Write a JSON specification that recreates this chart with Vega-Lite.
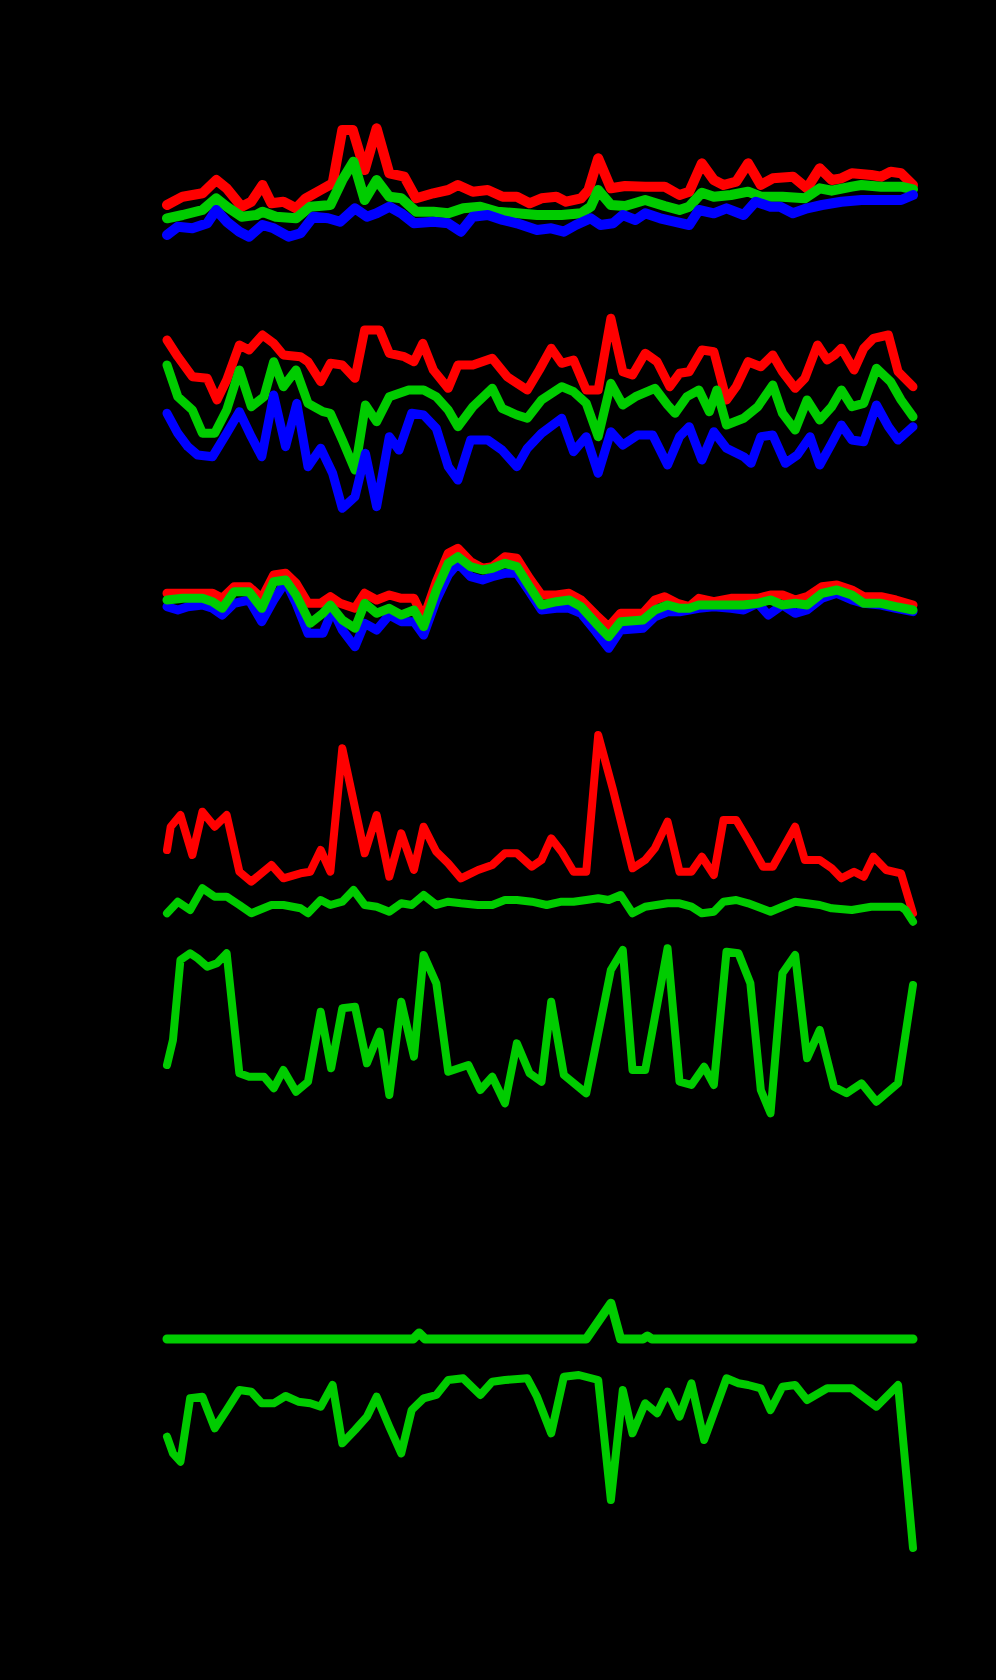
{
"$schema": "https://vega.github.io/schema/vega-lite/v6.json",
"background": "#000000",
"padding": {"left": 162, "right": 78, "top": 0, "bottom": 0},
"spacing": 0,
"config": {"view": {"stroke": null}, "line": {"strokeCap": "round", "strokeJoin": "round"}},
"datasets": {
"p1r": [{"x":0,"y":45},{"x":2.1,"y":53.3},{"x":4.75,"y":56.7},{"x":6.6,"y":70},{"x":8,"y":61.7},{"x":10,"y":43.3},{"x":11.3,"y":48.3},{"x":12.8,"y":65},{"x":14,"y":46.7},{"x":15.6,"y":48.3},{"x":17.3,"y":41.7},{"x":18.6,"y":51.7},{"x":20.6,"y":60},{"x":22.2,"y":66.7},{"x":23.5,"y":120},{"x":24.9,"y":120},{"x":26.5,"y":80},{"x":28.1,"y":121.7},{"x":29.8,"y":76.7},{"x":31.8,"y":73.3},{"x":33.4,"y":51.7},{"x":35.7,"y":56.7},{"x":37.7,"y":60},{"x":39,"y":65},{"x":41,"y":58.3},{"x":43,"y":60},{"x":45,"y":53.3},{"x":46.9,"y":53.3},{"x":48.6,"y":46.7},{"x":50.2,"y":51.7},{"x":52.2,"y":53.3},{"x":53.5,"y":48.3},{"x":55.5,"y":51.7},{"x":56.5,"y":60},{"x":57.8,"y":91.7},{"x":59.5,"y":61.7},{"x":61.4,"y":64},{"x":64.1,"y":63.3},{"x":66.7,"y":63.3},{"x":68.7,"y":55},{"x":70,"y":58.3},{"x":71.7,"y":86.7},{"x":73.3,"y":70},{"x":74.6,"y":65},{"x":76.3,"y":68.3},{"x":77.9,"y":86.7},{"x":79.6,"y":65},{"x":81.2,"y":71.7},{"x":83.9,"y":73.3},{"x":85.8,"y":61.7},{"x":87.5,"y":81.7},{"x":89.1,"y":70},{"x":90.4,"y":71.7},{"x":91.8,"y":76.7},{"x":94.4,"y":75},{"x":95.7,"y":73.3},{"x":97,"y":78.3},{"x":98.4,"y":76.7},{"x":100,"y":65}],
"p1g": [{"x":0,"y":31.7},{"x":2.1,"y":35},{"x":4.75,"y":40},{"x":6.6,"y":51.7},{"x":8,"y":43.3},{"x":10,"y":33.3},{"x":12,"y":35},{"x":12.8,"y":38.3},{"x":14.6,"y":33.3},{"x":17.3,"y":31.7},{"x":19.2,"y":43.3},{"x":21.9,"y":45},{"x":23.5,"y":70},{"x":25,"y":88.3},{"x":26.5,"y":50},{"x":28.1,"y":70},{"x":29.8,"y":53.3},{"x":31.4,"y":51.7},{"x":33.4,"y":38.3},{"x":35.7,"y":38.3},{"x":37.7,"y":36.7},{"x":39.7,"y":41.7},{"x":42,"y":43.3},{"x":44.3,"y":38.3},{"x":46.9,"y":36.7},{"x":49.6,"y":35},{"x":52.9,"y":35},{"x":55.5,"y":36.7},{"x":56.8,"y":43.3},{"x":57.8,"y":60},{"x":59.5,"y":45},{"x":61.4,"y":44},{"x":64.1,"y":50},{"x":66.7,"y":44},{"x":68.7,"y":40},{"x":70,"y":43.3},{"x":71.7,"y":57.3},{"x":73.3,"y":53.3},{"x":75.6,"y":55},{"x":77.9,"y":58.3},{"x":79.6,"y":53.3},{"x":82.5,"y":53.3},{"x":85.5,"y":51.7},{"x":87.5,"y":61.7},{"x":89.1,"y":59.3},{"x":91.8,"y":63.3},{"x":93.1,"y":65},{"x":95.7,"y":63.3},{"x":98.4,"y":63.3},{"x":100,"y":60.7}],
"p1b": [{"x":0,"y":15},{"x":1.45,"y":23.3},{"x":3.4,"y":21.7},{"x":5.4,"y":26.7},{"x":6.6,"y":40},{"x":8,"y":28.3},{"x":9.7,"y":18.3},{"x":11,"y":13.3},{"x":12.8,"y":25},{"x":14.3,"y":21.7},{"x":16.3,"y":13.3},{"x":17.9,"y":16.7},{"x":19.6,"y":33.3},{"x":21.6,"y":31.7},{"x":23.2,"y":28.3},{"x":25.2,"y":41.7},{"x":26.8,"y":33.3},{"x":28.1,"y":36.7},{"x":29.8,"y":43.3},{"x":31.4,"y":36.7},{"x":33.1,"y":26.7},{"x":35.7,"y":28.3},{"x":37.7,"y":26.7},{"x":39.4,"y":18.3},{"x":41,"y":33.3},{"x":43,"y":35},{"x":45,"y":30},{"x":46.9,"y":26.7},{"x":49.6,"y":20},{"x":51.5,"y":21.7},{"x":53.2,"y":18.3},{"x":54.8,"y":25},{"x":56.8,"y":31.7},{"x":58.1,"y":25},{"x":59.8,"y":26.7},{"x":61.1,"y":35},{"x":62.8,"y":30},{"x":64.1,"y":36.7},{"x":66.1,"y":31.7},{"x":68,"y":28.3},{"x":70,"y":25},{"x":71.3,"y":40},{"x":73.3,"y":36.7},{"x":75,"y":41.7},{"x":77.3,"y":35},{"x":78.9,"y":48.3},{"x":80.9,"y":43.3},{"x":82.2,"y":43.3},{"x":83.9,"y":36.7},{"x":85.8,"y":41.7},{"x":87.8,"y":45},{"x":90.4,"y":48.3},{"x":93.1,"y":50},{"x":95.7,"y":50},{"x":98.4,"y":50},{"x":100,"y":55}],
"p2r": [{"x":0,"y":110},{"x":1.45,"y":93.3},{"x":3.4,"y":73.3},{"x":5.4,"y":71.7},{"x":6.7,"y":50},{"x":8,"y":70},{"x":9.7,"y":105},{"x":11,"y":100},{"x":12.8,"y":115},{"x":14.3,"y":106.7},{"x":15.6,"y":95},{"x":17.9,"y":93.3},{"x":18.9,"y":88.3},{"x":20.6,"y":68.3},{"x":21.9,"y":86.7},{"x":23.5,"y":85},{"x":25.2,"y":71.7},{"x":26.5,"y":120},{"x":28.5,"y":120},{"x":29.8,"y":96.7},{"x":31.8,"y":93.3},{"x":33.1,"y":88.3},{"x":34.3,"y":106.7},{"x":35.7,"y":80},{"x":37.7,"y":61.7},{"x":39,"y":85},{"x":41,"y":85},{"x":43.6,"y":91.7},{"x":45.6,"y":73.3},{"x":48.3,"y":60},{"x":49.9,"y":80},{"x":51.5,"y":101.7},{"x":52.9,"y":86.7},{"x":54.5,"y":90},{"x":56.2,"y":60},{"x":57.8,"y":60},{"x":59.5,"y":131.7},{"x":61.1,"y":78.3},{"x":62.4,"y":75},{"x":64.1,"y":96.7},{"x":65.7,"y":88.3},{"x":67.4,"y":63.3},{"x":68.7,"y":76.7},{"x":70,"y":78.3},{"x":71.7,"y":100},{"x":73.3,"y":98.3},{"x":75,"y":50},{"x":76.3,"y":63.3},{"x":77.9,"y":88.3},{"x":79.6,"y":83.3},{"x":81.2,"y":95},{"x":82.5,"y":78.3},{"x":84.2,"y":61.7},{"x":85.5,"y":71.7},{"x":87.2,"y":105},{"x":88.5,"y":90},{"x":89.5,"y":95},{"x":90.4,"y":101.7},{"x":92.1,"y":80},{"x":93.4,"y":101.7},{"x":94.7,"y":111.7},{"x":96.7,"y":115},{"x":98,"y":78.3},{"x":100,"y":63.3}],
"p2g": [{"x":0,"y":85},{"x":1.45,"y":53.3},{"x":3.4,"y":40},{"x":4.75,"y":16.7},{"x":6.4,"y":16.7},{"x":8,"y":40},{"x":9.7,"y":80},{"x":11.3,"y":43.3},{"x":13,"y":53.3},{"x":14.3,"y":88.3},{"x":15.6,"y":63.3},{"x":17.3,"y":80},{"x":18.9,"y":46.7},{"x":20.9,"y":38.3},{"x":21.9,"y":36.7},{"x":23.5,"y":10},{"x":25.2,"y":-20},{"x":26.6,"y":45},{"x":28.1,"y":28.3},{"x":29.8,"y":53.3},{"x":32.4,"y":60},{"x":34.4,"y":60},{"x":36.1,"y":53.3},{"x":37.7,"y":40},{"x":39,"y":23.3},{"x":41,"y":43.3},{"x":43.6,"y":61.7},{"x":44.9,"y":41.7},{"x":46.9,"y":35},{"x":48.3,"y":31.7},{"x":50.2,"y":50},{"x":52.9,"y":63.3},{"x":54.5,"y":58.3},{"x":56.2,"y":46.7},{"x":57.8,"y":13.3},{"x":59.5,"y":66.7},{"x":61.1,"y":45},{"x":62.8,"y":53.3},{"x":65.4,"y":61.7},{"x":67.1,"y":45},{"x":68.1,"y":36.7},{"x":69.7,"y":53.3},{"x":71.3,"y":60},{"x":72.7,"y":38.3},{"x":73.7,"y":60},{"x":75,"y":25},{"x":77.3,"y":31.7},{"x":79.2,"y":43.3},{"x":81.2,"y":65},{"x":82.5,"y":36.7},{"x":84.2,"y":20},{"x":85.8,"y":50},{"x":87.5,"y":30},{"x":89.1,"y":43.3},{"x":90.4,"y":60},{"x":91.8,"y":43.3},{"x":93.4,"y":46.7},{"x":95.1,"y":81.7},{"x":97,"y":68.3},{"x":98.4,"y":50},{"x":100,"y":33.3}],
"p2b": [{"x":0,"y":36.7},{"x":1.45,"y":16.7},{"x":2.8,"y":3.3},{"x":4.1,"y":-5},{"x":6.1,"y":-6.7},{"x":8,"y":16.7},{"x":9.7,"y":38.3},{"x":11.3,"y":13.3},{"x":12.7,"y":-6.7},{"x":14.3,"y":55},{"x":15.9,"y":3.3},{"x":17.4,"y":46.7},{"x":18.9,"y":-16.7},{"x":20.6,"y":1.7},{"x":22.2,"y":-23.3},{"x":23.5,"y":-58.3},{"x":25.2,"y":-46.7},{"x":26.6,"y":-3.3},{"x":28.1,"y":-56.7},{"x":29.8,"y":13.3},{"x":31.1,"y":0},{"x":32.8,"y":36.7},{"x":34.4,"y":35},{"x":36.1,"y":21.7},{"x":37.7,"y":-16.7},{"x":39,"y":-30},{"x":40.7,"y":10},{"x":43,"y":10},{"x":44.9,"y":0},{"x":46.9,"y":-16.7},{"x":48.3,"y":1.7},{"x":50.2,"y":16.7},{"x":52.9,"y":31.7},{"x":54.5,"y":-1.7},{"x":56.2,"y":13.3},{"x":57.8,"y":-23.3},{"x":59.5,"y":18.3},{"x":61.1,"y":5},{"x":63.1,"y":15},{"x":65.1,"y":15},{"x":67.1,"y":-15},{"x":68.7,"y":13.3},{"x":70,"y":23.3},{"x":71.7,"y":-10},{"x":73.3,"y":18.3},{"x":75,"y":1.7},{"x":77.3,"y":-6.7},{"x":78.3,"y":-13.3},{"x":79.6,"y":13.3},{"x":81.2,"y":15},{"x":82.9,"y":-13.3},{"x":84.5,"y":-5},{"x":86.2,"y":13.3},{"x":87.5,"y":-15},{"x":89.1,"y":6.7},{"x":90.4,"y":25},{"x":91.8,"y":10},{"x":93.4,"y":8.3},{"x":95.1,"y":45},{"x":96.7,"y":23.3},{"x":98,"y":10},{"x":100,"y":23.3}],
"p3r": [{"x":0,"y":76.7},{"x":2.1,"y":76.7},{"x":4.75,"y":76.7},{"x":6.1,"y":76.7},{"x":7.4,"y":71.7},{"x":9,"y":83.3},{"x":11,"y":83.3},{"x":12.7,"y":71.7},{"x":14.3,"y":95},{"x":15.9,"y":96.7},{"x":17.3,"y":86.7},{"x":18.9,"y":66.7},{"x":20.6,"y":66.7},{"x":21.9,"y":73.3},{"x":23.2,"y":66.7},{"x":25.2,"y":61.7},{"x":26.5,"y":76.7},{"x":28.1,"y":70},{"x":29.8,"y":75},{"x":31.4,"y":71.7},{"x":33.1,"y":71.7},{"x":34.4,"y":51.7},{"x":36.1,"y":88.3},{"x":37.7,"y":116.7},{"x":39,"y":121.7},{"x":40.7,"y":108.3},{"x":42.3,"y":101.7},{"x":43.6,"y":103.3},{"x":45.3,"y":113.3},{"x":46.9,"y":111.7},{"x":48.6,"y":91.7},{"x":50.2,"y":75},{"x":52.2,"y":75},{"x":53.9,"y":76.7},{"x":55.5,"y":70},{"x":57.5,"y":55},{"x":59.2,"y":43.3},{"x":60.8,"y":56.7},{"x":63.8,"y":56.7},{"x":65.4,"y":70},{"x":66.7,"y":73.3},{"x":68.4,"y":66.7},{"x":70,"y":63.3},{"x":71.3,"y":71.7},{"x":73.3,"y":68.3},{"x":75.6,"y":71.7},{"x":77.3,"y":71.7},{"x":79.2,"y":71.7},{"x":80.9,"y":75},{"x":82.5,"y":75},{"x":84.2,"y":70},{"x":85.8,"y":73.3},{"x":87.8,"y":83.3},{"x":89.8,"y":85},{"x":91.8,"y":80},{"x":93.4,"y":73.3},{"x":95.7,"y":73.3},{"x":97.7,"y":70},{"x":100,"y":65}],
"p3g": [{"x":0,"y":70},{"x":2.1,"y":71.7},{"x":4.75,"y":71.7},{"x":6.1,"y":68.3},{"x":7.4,"y":61.7},{"x":9,"y":78.3},{"x":11,"y":78.3},{"x":12.7,"y":61.7},{"x":14.3,"y":88.3},{"x":15.9,"y":90},{"x":17.3,"y":75},{"x":19.2,"y":46.7},{"x":20.9,"y":56.7},{"x":21.9,"y":65},{"x":23.5,"y":50},{"x":25.2,"y":41.7},{"x":26.5,"y":66.7},{"x":28.1,"y":56.7},{"x":29.8,"y":61.7},{"x":31.4,"y":55},{"x":33.1,"y":60},{"x":34.4,"y":43.3},{"x":36.1,"y":80},{"x":37.7,"y":106.7},{"x":39,"y":113.3},{"x":40.7,"y":103.3},{"x":42.3,"y":100},{"x":43.6,"y":101.7},{"x":45.3,"y":106.7},{"x":46.9,"y":103.3},{"x":48.6,"y":83.3},{"x":50.2,"y":65},{"x":52.2,"y":68.3},{"x":53.9,"y":70},{"x":55.5,"y":63.3},{"x":57.5,"y":46.7},{"x":59.2,"y":33.3},{"x":60.8,"y":48.3},{"x":63.8,"y":50},{"x":65.4,"y":60},{"x":67.1,"y":65},{"x":68.7,"y":61.7},{"x":70,"y":61.7},{"x":71.3,"y":65},{"x":73.3,"y":65},{"x":75.6,"y":65},{"x":77.3,"y":65},{"x":79.2,"y":66.7},{"x":80.9,"y":70},{"x":82.5,"y":65},{"x":84.2,"y":66.7},{"x":85.8,"y":65},{"x":87.8,"y":76.7},{"x":89.8,"y":80},{"x":91.8,"y":75},{"x":93.4,"y":66.7},{"x":95.7,"y":66.7},{"x":97.7,"y":63.3},{"x":100,"y":60}],
"p3b": [{"x":0,"y":63.3},{"x":1.45,"y":60},{"x":2.8,"y":63.3},{"x":4.75,"y":65},{"x":6.1,"y":61.7},{"x":7.4,"y":55},{"x":9,"y":66.7},{"x":11,"y":70},{"x":12.7,"y":48.3},{"x":14.3,"y":70},{"x":15.9,"y":88.3},{"x":17.3,"y":66.7},{"x":18.9,"y":36.7},{"x":20.9,"y":36.7},{"x":22.2,"y":60},{"x":23.5,"y":40},{"x":25.2,"y":23.3},{"x":26.5,"y":46.7},{"x":28.1,"y":40},{"x":29.8,"y":55},{"x":31.4,"y":48.3},{"x":33.1,"y":48.3},{"x":34.4,"y":35},{"x":36.1,"y":70},{"x":37.7,"y":95},{"x":39,"y":106.7},{"x":40.7,"y":93.3},{"x":42.3,"y":90},{"x":43.6,"y":93.3},{"x":45.3,"y":96.7},{"x":46.9,"y":96.7},{"x":48.6,"y":78.3},{"x":50.2,"y":60},{"x":52.2,"y":61.7},{"x":53.9,"y":61.7},{"x":55.5,"y":56.7},{"x":57.5,"y":38.3},{"x":59.2,"y":21.7},{"x":60.8,"y":40},{"x":63.8,"y":41.7},{"x":65.4,"y":53.3},{"x":67.1,"y":58.3},{"x":68.7,"y":58.3},{"x":70,"y":60},{"x":71.3,"y":61.7},{"x":73.3,"y":63.3},{"x":75.6,"y":61.7},{"x":77.3,"y":60},{"x":79.2,"y":66.7},{"x":80.6,"y":55},{"x":82.5,"y":65},{"x":84.2,"y":56.7},{"x":85.8,"y":60},{"x":87.8,"y":71.7},{"x":89.8,"y":76.7},{"x":91.8,"y":70},{"x":93.4,"y":66.7},{"x":95.7,"y":65},{"x":97.7,"y":61.7},{"x":100,"y":58.3}],
"p4r": [{"x":0,"y":20},{"x":0.5,"y":43.3},{"x":1.8,"y":55},{"x":3.4,"y":15},{"x":4.75,"y":58.3},{"x":6.4,"y":43.3},{"x":8,"y":55},{"x":9.7,"y":-1.7},{"x":11.3,"y":-11.7},{"x":14,"y":5},{"x":15.6,"y":-8.3},{"x":17.9,"y":-3.3},{"x":19.2,"y":-1.7},{"x":20.6,"y":20},{"x":21.9,"y":-1.7},{"x":23.5,"y":121.7},{"x":26.5,"y":16.7},{"x":28.1,"y":55},{"x":29.8,"y":-6.7},{"x":31.4,"y":36.7},{"x":33.1,"y":0},{"x":34.4,"y":43.3},{"x":36.1,"y":18.3},{"x":37.7,"y":6.7},{"x":39.4,"y":-8.3},{"x":41.7,"y":0},{"x":43.6,"y":5},{"x":45.3,"y":16.7},{"x":46.9,"y":16.7},{"x":48.9,"y":3.3},{"x":50.2,"y":10},{"x":51.5,"y":31.7},{"x":52.9,"y":18.3},{"x":54.5,"y":-1.7},{"x":56.2,"y":-1.7},{"x":57.8,"y":135},{"x":59.8,"y":80},{"x":62.4,"y":1.7},{"x":64.1,"y":10},{"x":65.4,"y":21.7},{"x":67.1,"y":48.3},{"x":68.7,"y":-1.7},{"x":70.3,"y":-1.7},{"x":71.7,"y":13.3},{"x":73.3,"y":-5},{"x":74.6,"y":50},{"x":76.3,"y":50},{"x":77.9,"y":30},{"x":79.9,"y":3.3},{"x":81.2,"y":3.3},{"x":84.2,"y":43.3},{"x":85.5,"y":10},{"x":87.5,"y":10},{"x":89.1,"y":1.7},{"x":90.4,"y":-8.3},{"x":92.1,"y":-1.7},{"x":93.4,"y":-6.7},{"x":94.7,"y":13.3},{"x":96.4,"y":0},{"x":98.4,"y":-3.3},{"x":100,"y":-43.3}],
"p4g": [{"x":0,"y":-43.3},{"x":1.45,"y":-31.7},{"x":3.1,"y":-40},{"x":4.75,"y":-18.3},{"x":6.4,"y":-26.7},{"x":8,"y":-26.7},{"x":9.7,"y":-35},{"x":11.3,"y":-43.3},{"x":14,"y":-35},{"x":15.6,"y":-35},{"x":17.9,"y":-38.3},{"x":18.9,"y":-43.3},{"x":20.6,"y":-30},{"x":21.9,"y":-35},{"x":23.5,"y":-31.7},{"x":25,"y":-20},{"x":26.5,"y":-35},{"x":28.1,"y":-36.7},{"x":29.8,"y":-41.7},{"x":31.4,"y":-33.3},{"x":32.8,"y":-35},{"x":34.4,"y":-25},{"x":36.1,"y":-35},{"x":37.7,"y":-31.7},{"x":39.4,"y":-33.3},{"x":41.7,"y":-35},{"x":43.6,"y":-35},{"x":45.3,"y":-30},{"x":46.9,"y":-30},{"x":48.9,"y":-31.7},{"x":50.9,"y":-35},{"x":52.9,"y":-31.7},{"x":54.5,"y":-31.7},{"x":56.2,"y":-30},{"x":57.8,"y":-28.3},{"x":59.2,"y":-30},{"x":60.8,"y":-25},{"x":62.4,"y":-43.3},{"x":64.1,"y":-36.7},{"x":67.1,"y":-33.3},{"x":68.7,"y":-33.3},{"x":70.3,"y":-36.7},{"x":71.7,"y":-43.3},{"x":73.3,"y":-41.7},{"x":74.6,"y":-31.7},{"x":76.3,"y":-30},{"x":77.9,"y":-33.3},{"x":80.9,"y":-41.7},{"x":82.5,"y":-36.7},{"x":84.2,"y":-31.7},{"x":85.8,"y":-33.3},{"x":87.5,"y":-35},{"x":89.1,"y":-38.3},{"x":91.8,"y":-40},{"x":94.4,"y":-36.7},{"x":98.4,"y":-36.7},{"x":99,"y":-40},{"x":100,"y":-51.7}],
"p5g": [{"x":0,"y":15},{"x":0.8,"y":40},{"x":1.8,"y":120},{"x":3.1,"y":126.7},{"x":4.1,"y":121.7},{"x":5.4,"y":113.3},{"x":6.7,"y":116.7},{"x":8,"y":126.7},{"x":9.7,"y":6.7},{"x":11,"y":3.3},{"x":13,"y":3.3},{"x":14.3,"y":-8.3},{"x":15.6,"y":10},{"x":17.3,"y":-11.7},{"x":18.9,"y":-1.7},{"x":20.6,"y":68.3},{"x":22,"y":11.7},{"x":23.5,"y":71.7},{"x":25.2,"y":73.3},{"x":26.8,"y":16.7},{"x":28.5,"y":48.3},{"x":29.8,"y":-15},{"x":31.4,"y":78.3},{"x":33.1,"y":23.3},{"x":34.4,"y":125},{"x":36.1,"y":96.7},{"x":37.7,"y":8.3},{"x":40.4,"y":15},{"x":42,"y":-10},{"x":43.6,"y":3.3},{"x":45.3,"y":-23.3},{"x":46.9,"y":36.7},{"x":48.6,"y":6.7},{"x":50.2,"y":-1.7},{"x":51.5,"y":78.3},{"x":53.2,"y":5},{"x":56.2,"y":-13.3},{"x":59.5,"y":110},{"x":61.1,"y":130},{"x":62.4,"y":10},{"x":64.1,"y":10},{"x":67.1,"y":131.7},{"x":68.7,"y":-1.7},{"x":70.3,"y":-5},{"x":72,"y":13.3},{"x":73.3,"y":-5},{"x":75,"y":128.3},{"x":76.6,"y":126.7},{"x":78.2,"y":96.7},{"x":79.6,"y":-10},{"x":80.9,"y":-33.3},{"x":82.5,"y":106.7},{"x":84.2,"y":125},{"x":85.8,"y":21.7},{"x":87.5,"y":50},{"x":89.4,"y":-6.7},{"x":91.1,"y":-13.3},{"x":93.1,"y":-3.3},{"x":95.1,"y":-21.7},{"x":98,"y":-3.3},{"x":100,"y":95}],
"p6a": [{"x":0,"y":81},{"x":33,"y":81},{"x":33.8,"y":87},{"x":34.6,"y":81},{"x":56.2,"y":81},{"x":59.5,"y":116.7},{"x":60.8,"y":81},{"x":63.8,"y":81},{"x":64.4,"y":84},{"x":65,"y":81},{"x":100,"y":81}],
"p6b": [{"x":0,"y":-16.7},{"x":0.8,"y":-33.3},{"x":1.8,"y":-41.7},{"x":3.1,"y":21.7},{"x":4.75,"y":23.3},{"x":6.4,"y":-8.3},{"x":8,"y":10},{"x":9.7,"y":30},{"x":11.3,"y":28.3},{"x":12.7,"y":16.7},{"x":14.3,"y":16.7},{"x":15.9,"y":24},{"x":17.6,"y":18.3},{"x":19.2,"y":16.7},{"x":20.6,"y":13.3},{"x":22.2,"y":35},{"x":23.5,"y":-23.3},{"x":25.2,"y":-10},{"x":26.8,"y":3.3},{"x":28.1,"y":23.3},{"x":29.8,"y":-6.7},{"x":31.4,"y":-33.3},{"x":32.8,"y":10},{"x":34.4,"y":21.7},{"x":36.1,"y":25},{"x":37.7,"y":40},{"x":39.7,"y":41.7},{"x":42,"y":25},{"x":43.6,"y":38.3},{"x":45.3,"y":40},{"x":48.3,"y":41.7},{"x":49.6,"y":23.3},{"x":51.5,"y":-13.3},{"x":53.2,"y":43.3},{"x":55.2,"y":45},{"x":57.8,"y":40},{"x":59.5,"y":-80},{"x":61.1,"y":30},{"x":62.4,"y":-13.3},{"x":64.1,"y":16.7},{"x":65.7,"y":6.7},{"x":67.1,"y":28.3},{"x":68.7,"y":3.3},{"x":70.3,"y":36.7},{"x":72,"y":-20},{"x":75,"y":41.7},{"x":76.6,"y":36.7},{"x":77.9,"y":35},{"x":79.6,"y":31.7},{"x":80.9,"y":10},{"x":82.5,"y":33.3},{"x":84.2,"y":35},{"x":85.8,"y":20},{"x":88.5,"y":31.7},{"x":91.8,"y":31.7},{"x":95.1,"y":13.3},{"x":98,"y":35},{"x":100,"y":-128}]
},
"vconcat": [
{"width": 746, "height": 290,
 "encoding": {"x": {"field": "x", "type": "quantitative", "scale": {"domain": [0, 100], "nice": false, "zero": false}, "axis": null},
              "y": {"field": "y", "type": "quantitative", "scale": {"domain": [-40, 250], "nice": false, "zero": false}, "axis": null}},
 "layer": [
  {"data": {"name": "p1r"}, "mark": {"type": "line", "color": "#ff0000", "strokeWidth": 10}},
  {"data": {"name": "p1g"}, "mark": {"type": "line", "color": "#00cc00", "strokeWidth": 10}},
  {"data": {"name": "p1b"}, "mark": {"type": "line", "color": "#0000ff", "strokeWidth": 10}}
 ]},
{"width": 746, "height": 235,
 "encoding": {"x": {"field": "x", "type": "quantitative", "scale": {"domain": [0, 100], "nice": false, "zero": false}, "axis": null},
              "y": {"field": "y", "type": "quantitative", "scale": {"domain": [-75, 160], "nice": false, "zero": false}, "axis": null}},
 "layer": [
  {"data": {"name": "p2r"}, "mark": {"type": "line", "color": "#ff0000", "strokeWidth": 9}},
  {"data": {"name": "p2g"}, "mark": {"type": "line", "color": "#00cc00", "strokeWidth": 9}},
  {"data": {"name": "p2b"}, "mark": {"type": "line", "color": "#0000ff", "strokeWidth": 9}}
 ]},
{"width": 746, "height": 165,
 "encoding": {"x": {"field": "x", "type": "quantitative", "scale": {"domain": [0, 100], "nice": false, "zero": false}, "axis": null},
              "y": {"field": "y", "type": "quantitative", "scale": {"domain": [-20, 145], "nice": false, "zero": false}, "axis": null}},
 "layer": [
  {"data": {"name": "p3r"}, "mark": {"type": "line", "color": "#ff0000", "strokeWidth": 9}},
  {"data": {"name": "p3b"}, "mark": {"type": "line", "color": "#0000ff", "strokeWidth": 9}},
  {"data": {"name": "p3g"}, "mark": {"type": "line", "color": "#00cc00", "strokeWidth": 9}}
 ]},
{"width": 746, "height": 245,
 "encoding": {"x": {"field": "x", "type": "quantitative", "scale": {"domain": [0, 100], "nice": false, "zero": false}, "axis": null},
              "y": {"field": "y", "type": "quantitative", "scale": {"domain": [-65, 180], "nice": false, "zero": false}, "axis": null}},
 "layer": [
  {"data": {"name": "p4r"}, "mark": {"type": "line", "color": "#ff0000", "strokeWidth": 8}},
  {"data": {"name": "p4g"}, "mark": {"type": "line", "color": "#00cc00", "strokeWidth": 8}}
 ]},
{"width": 746, "height": 265,
 "encoding": {"x": {"field": "x", "type": "quantitative", "scale": {"domain": [0, 100], "nice": false, "zero": false}, "axis": null},
              "y": {"field": "y", "type": "quantitative", "scale": {"domain": [-120, 145], "nice": false, "zero": false}, "axis": null}},
 "layer": [
  {"data": {"name": "p5g"}, "mark": {"type": "line", "color": "#00cc00", "strokeWidth": 8}}
 ]},
{"width": 746, "height": 480,
 "encoding": {"x": {"field": "x", "type": "quantitative", "scale": {"domain": [0, 100], "nice": false, "zero": false}, "axis": null},
              "y": {"field": "y", "type": "quantitative", "scale": {"domain": [-260, 220], "nice": false, "zero": false}, "axis": null}},
 "layer": [
  {"data": {"name": "p6a"}, "mark": {"type": "line", "color": "#00cc00", "strokeWidth": 9}},
  {"data": {"name": "p6b"}, "mark": {"type": "line", "color": "#00cc00", "strokeWidth": 8}}
 ]}
]
}
